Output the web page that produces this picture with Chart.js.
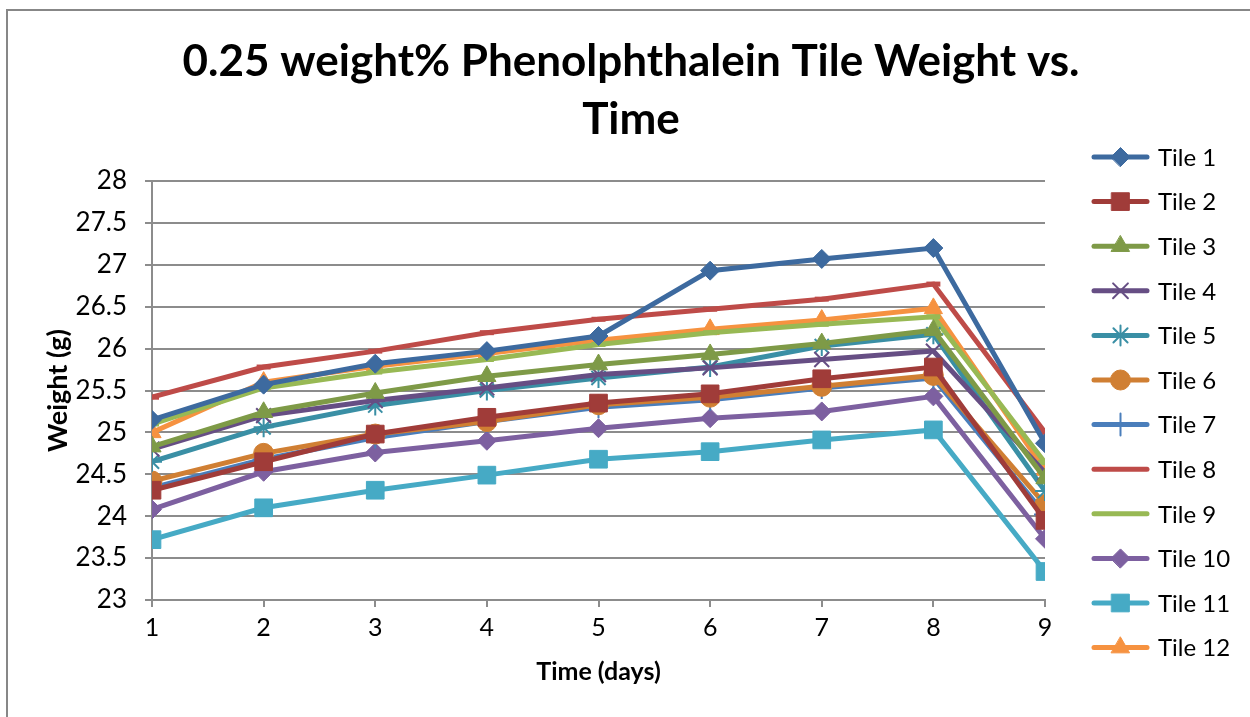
<!DOCTYPE html>
<html>
<head>
<meta charset="utf-8">
<script src="https://cdn.jsdelivr.net/npm/chart.js@4/dist/chart.umd.min.js"></script>
<style>
  html, body { margin: 0; padding: 0; background: #fff; }
  #wrap { position: relative; width: 1250px; height: 717px; }
</style>
</head>
<body>
<div id="wrap"><canvas id="c"></canvas></div>
<script>
// weights in grams
const days = [1, 2, 3, 4, 5, 6, 7, 8, 9];
const yTicks = [23, 23.5, 24, 24.5, 25, 25.5, 26, 26.5, 27, 27.5, 28];
const tileNames = ["Tile 1", "Tile 2", "Tile 3", "Tile 4", "Tile 5", "Tile 6",
  "Tile 7", "Tile 8", "Tile 9", "Tile 10", "Tile 11", "Tile 12"];

const tile1 = [25.15, 25.57, 25.82, 25.97, 26.15, 26.93, 27.07, 27.2, 24.87];
const tile2 = [24.31, 24.65, 24.98, 25.18, 25.35, 25.46, 25.64, 25.78, 23.95];
const tile3 = [24.83, 25.24, 25.47, 25.67, 25.81, 25.93, 26.06, 26.22, 24.45];
const tile4 = [24.8, 25.2, 25.38, 25.53, 25.69, 25.77, 25.87, 25.97, 24.52];
const tile5 = [24.65, 25.06, 25.32, 25.5, 25.65, 25.78, 26.03, 26.17, 24.3];
const tile6 = [24.42, 24.75, 24.98, 25.13, 25.33, 25.42, 25.55, 25.68, 24.14];
const tile7 = [24.34, 24.68, 24.94, 25.13, 25.3, 25.39, 25.53, 25.65, 24.02];
const tile8 = [25.42, 25.78, 25.97, 26.19, 26.35, 26.47, 26.59, 26.77, 25.0];
const tile9 = [25.1, 25.53, 25.72, 25.87, 26.05, 26.19, 26.29, 26.38, 24.64];
const tile10 = [24.08, 24.53, 24.76, 24.9, 25.05, 25.17, 25.25, 25.43, 23.73];
const tile11 = [23.72, 24.1, 24.31, 24.49, 24.68, 24.77, 24.91, 25.03, 23.34];
const tile12 = [25.0, 25.6, 25.79, 25.94, 26.1, 26.23, 26.34, 26.48, 24.55];

const series = [tile1, tile2, tile3, tile4, tile5, tile6, tile7, tile8, tile9, tile10, tile11, tile12];

// excel-ish palette and marker shapes
const colors = ["#3D6A9F", "#A03C39", "#7E9A47", "#664E84", "#3A8FA5", "#D07F33",
  "#4A7EBB", "#BE4B48", "#98B954", "#7D60A0", "#46AAC5", "#F69240"];
const marks = [
  { style: "rectRot", r: 9.5, bw: 1 },
  { style: "rect", r: 12.5, bw: 1 },
  { style: "triangle", r: 10.5, bw: 1 },
  { style: "crossRot", r: 10.5, bw: 2 },
  { style: "star", r: 10, bw: 2 },
  { style: "circle", r: 10, bw: 1 },
  { style: "cross", r: 11, bw: 2 },
  { style: "line", r: 7, bw: 5 },
  { style: "line", r: 7, bw: 5 },
  { style: "rectRot", r: 9.5, bw: 1 },
  { style: "rect", r: 12.5, bw: 1 },
  { style: "triangle", r: 10.5, bw: 1 },
];

const FONT = "Lato, 'Open Sans', 'DejaVu Sans', sans-serif";
const GRID = "#8c8c8c";

const datasets = series.map((vals, i) => ({
  label: tileNames[i],
  data: vals.map((v, j) => ({ x: days[j], y: v })),
  borderColor: colors[i],
  backgroundColor: colors[i],
  borderWidth: 5,
  pointStyle: marks[i].style,
  pointRadius: marks[i].r,
  pointBorderWidth: marks[i].bw,
  pointBorderColor: colors[i],
  pointBackgroundColor: colors[i],
  tension: 0,
}));

function drawMark(ctx, opts, x, y) {
  if (Chart.helpers && Chart.helpers.drawPoint) {
    Chart.helpers.drawPoint(ctx, opts, x, y);
  }
}

const chrome = {
  id: "chrome",
  afterDraw(chart) {
    const ctx = chart.ctx;
    ctx.save();
    // outer frame
    ctx.strokeStyle = "#878787";
    ctx.lineWidth = 2;
    ctx.strokeRect(7, 10, 1260, 720);

    // title
    ctx.fillStyle = "#000";
    ctx.font = "bold 44px " + FONT;
    ctx.textAlign = "center";
    ctx.textBaseline = "middle";
    ctx.fillText("0.25 weight% Phenolphthalein Tile Weight vs.", 631, 62);
    ctx.fillText("Time", 631, 120);

    // legend
    ctx.font = "24px " + FONT;
    ctx.textAlign = "left";
    for (let i = 0; i < tileNames.length; i++) {
      const y = 157 + i * 44.6;
      ctx.strokeStyle = colors[i];
      ctx.lineWidth = 5;
      ctx.lineCap = "round";
      ctx.beginPath();
      ctx.moveTo(1094, y);
      ctx.lineTo(1147, y);
      ctx.stroke();
      if (marks[i].style !== "line") {
        ctx.fillStyle = colors[i];
        ctx.strokeStyle = colors[i];
        ctx.lineWidth = marks[i].bw;
        drawMark(ctx, { pointStyle: marks[i].style, radius: marks[i].r, rotation: 0, borderWidth: marks[i].bw }, 1120.5, y);
      }
      ctx.fillStyle = "#000";
      ctx.fillText(tileNames[i], 1158, y + 1);
    }
    ctx.restore();
  },
};

new Chart(document.getElementById("c"), {
  type: "line",
  data: { datasets },
  options: {
    responsive: true,
    maintainAspectRatio: false,
    animation: false,
    layout: { padding: { left: 40, right: 205, top: 181, bottom: 30 } },
    plugins: { legend: { display: false }, tooltip: { enabled: false }, title: { display: false } },
    scales: {
      x: {
        type: "linear",
        min: 1,
        max: 9,
        afterFit: (s) => { s.height = 87; },
        grid: { drawOnChartArea: false, drawTicks: true, tickLength: 7, color: GRID, lineWidth: 2 },
        border: { color: GRID, width: 2 },
        ticks: { stepSize: 1, color: "#000", padding: 6, font: { family: FONT, size: 25 } },
        title: { display: true, text: "Time (days)", color: "#000", padding: { top: 4, bottom: 0 }, font: { family: FONT, size: 25, weight: "bold" } },
      },
      y: {
        min: 23,
        max: 28,
        afterFit: (s) => { s.width = 112; },
        afterBuildTicks: (s) => { s.ticks = yTicks.map((v) => ({ value: v })); },
        grid: { color: GRID, lineWidth: 2, tickLength: 7 },
        border: { color: GRID, width: 2 },
        ticks: { color: "#000", padding: 18, font: { family: FONT, size: 26 }, callback: (v) => String(v) },
        title: { display: true, text: "Weight (g)", color: "#000", padding: { top: 2, bottom: 0 }, font: { family: FONT, size: 27, weight: "bold" } },
      },
    },
  },
  plugins: [chrome],
});
</script>
</body>
</html>
